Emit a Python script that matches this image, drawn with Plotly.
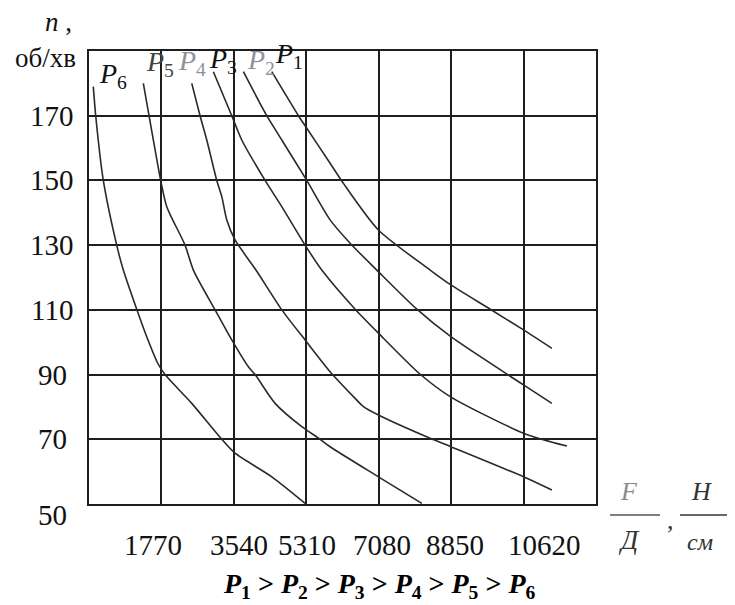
import plotly.graph_objects as go

# ---------------- data ----------------
curve_names = ["P1", "P2", "P3", "P4", "P5", "P6"]

p1_x = [4467, 5118, 5298, 5892, 6218, 7073, 8337, 8843, 9805, 10619, 11312]
p1_y = [183.6, 170, 166.6, 155.3, 149.1, 134.7, 122.3, 117.7, 110.2, 103.8, 98.1]

p2_x = [3773, 4344, 4711, 5322, 5892, 6381, 7033, 8012, 8843, 10619, 11312]
p2_y = [183.6, 170, 162.5, 150, 137.8, 130.6, 122.3, 110.2, 101.7, 86.8, 81.1]

p3_x = [3039, 3489, 3733, 4303, 4711, 5281, 5689, 6504, 7073, 8093, 8826, 10619, 11680]
p3_y = [183.6, 170, 162.5, 150, 141.9, 130, 122.3, 110.2, 102.8, 90.1, 83.2, 71.9, 67.9]

p4_x = [2511, 2714, 2878, 3122, 3245, 3367, 3570, 4080, 4711, 5281, 5892, 6462, 6707, 7073, 8337, 8843, 10619, 11312]
p4_y = [180, 170, 162.5, 150, 145, 137.8, 131.6, 122.3, 110, 100.7, 90.9, 83.2, 80.1, 77.5, 70.3, 67.7, 58.4, 54.3]

p5_x = [1328, 1467, 1572, 1752, 1900, 2347, 2550, 3081, 3489, 3895, 4059, 4548, 5200, 5650, 5892, 7073, 8134]
p5_y = [180, 170, 162.5, 150, 141.9, 130, 122.3, 110, 100.7, 92.4, 90, 81.1, 73.9, 70, 67.7, 58.4, 50.2]

p6_x = [105, 164, 350, 677, 839, 1166, 1411, 1680, 1858, 2511, 3245, 3570, 4467, 5281]
p6_y = [179, 170, 150, 130, 122.3, 110.2, 101.7, 93.5, 90, 81.1, 70, 65.7, 58.4, 50.2]

x_tick_vals = [1770, 3540, 5310, 7080, 8850, 10620]
x_tick_labels = ["1770", "3540", "5310", "7080", "8850", "10620"]
y_tick_vals = [50, 70, 90, 110, 130, 150, 170]
y_tick_labels = ["50", "70", "90", "110", "130", "150", "170"]

x_max = 12390
y_min, y_max = 50, 190

# ---------------- layout helpers ----------------
OFF = 8  # browser body margin
W, H = 735 - OFF, 605 - OFF
L, R, T, B = 89, 596, 51, 504  # plot area in page pixels


def px(xp):
    return (xp - L) / (R - L)


def py(yp):
    return (B - yp) / (B - T)


SERIF = "Liberation Serif"

fig = go.Figure()
series = [(p1_x, p1_y), (p2_x, p2_y), (p3_x, p3_y), (p4_x, p4_y), (p5_x, p5_y), (p6_x, p6_y)]
for name, (xs, ys) in zip(curve_names, series):
    fig.add_trace(go.Scatter(
        x=xs, y=ys, mode="lines", name=name,
        line=dict(color="#2a2a2a", width=1.6, shape="spline", smoothing=0.7),
        showlegend=False, hoverinfo="skip",
    ))

fig.update_xaxes(
    range=[0, x_max], tick0=0, dtick=1770, showgrid=True, gridcolor="#1e1e1e", gridwidth=2,
    showline=True, linecolor="#1e1e1e", linewidth=2, mirror=True, zeroline=False,
    showticklabels=False, ticks="", fixedrange=True,
)
fig.update_yaxes(
    range=[y_min, y_max], tick0=50, dtick=20, showgrid=True, gridcolor="#1e1e1e", gridwidth=2,
    showline=True, linecolor="#1e1e1e", linewidth=2, mirror=True, zeroline=False,
    showticklabels=False, ticks="", fixedrange=True,
)

ann = []
# y tick labels
for v, t in zip(y_tick_vals, y_tick_labels):
    ann.append(dict(x=px(52), xref="paper", y=v, yref="y", text=t, showarrow=False,
                    xanchor="center", yanchor="middle", yshift=(-11 if v == 50 else 0),
                    font=dict(family=SERIF, size=29, color="#111")))
# x tick labels
x_shifts = [-8, 5, 1, 3, 4, 21]
for v, t, s in zip(x_tick_vals, x_tick_labels, x_shifts):
    ann.append(dict(x=v, xref="x", y=py(545), yref="paper", text=t, showarrow=False,
                    xanchor="center", yanchor="middle", xshift=s,
                    font=dict(family=SERIF, size=29, color="#111")))

# curve labels
label_pos = {"P1": (289, 55), "P2": (261, 61), "P3": (223, 60), "P4": (192, 62), "P5": (160, 63), "P6": (113, 75)}
label_col = {"P1": "#111", "P2": "#8d939c", "P3": "#111", "P4": "#8d939c", "P5": "#444", "P6": "#111"}
for n in curve_names:
    xp, yp = label_pos[n]
    ann.append(dict(x=px(xp), y=py(yp), xref="paper", yref="paper", showarrow=False,
                    text="<i>P</i><sub>%s</sub>" % n[1:], xanchor="center", yanchor="middle",
                    font=dict(family=SERIF, size=28, color=label_col[n])))

# y axis title
ann.append(dict(x=px(58), y=py(22), xref="paper", yref="paper", showarrow=False,
                text="<i>n</i> ,", xanchor="center", yanchor="middle",
                font=dict(family=SERIF, size=27, color="#111")))
ann.append(dict(x=px(45), y=py(58), xref="paper", yref="paper", showarrow=False,
                text="об/хв", xanchor="center", yanchor="middle",
                font=dict(family=SERIF, size=27, color="#111")))

# x axis title (fractions)
ann.append(dict(x=px(629), y=py(491), xref="paper", yref="paper", showarrow=False,
                text="<i>F</i>", xanchor="center", yanchor="middle",
                font=dict(family=SERIF, size=26, color="#8a8a8a")))
ann.append(dict(x=px(629), y=py(540), xref="paper", yref="paper", showarrow=False,
                text="<i>Д</i>", xanchor="center", yanchor="middle",
                font=dict(family=SERIF, size=27, color="#333")))
ann.append(dict(x=px(670), y=py(520), xref="paper", yref="paper", showarrow=False,
                text=",", xanchor="center", yanchor="middle",
                font=dict(family=SERIF, size=26, color="#333")))
ann.append(dict(x=px(701), y=py(491), xref="paper", yref="paper", showarrow=False,
                text="<i>H</i>", xanchor="center", yanchor="middle",
                font=dict(family=SERIF, size=26, color="#333")))
ann.append(dict(x=px(700), y=py(542), xref="paper", yref="paper", showarrow=False,
                text="<i>см</i>", xanchor="center", yanchor="middle",
                font=dict(family=SERIF, size=24, color="#333")))

# condition line
ann.append(dict(x=px(379), y=py(585), xref="paper", yref="paper", showarrow=False,
                text="<b><i>P</i></b><b><sub>1</sub></b><b> > </b><b><i>P</i></b><b><sub>2</sub></b><b> > </b>"
                     "<b><i>P</i></b><b><sub>3</sub></b><b> > </b><b><i>P</i></b><b><sub>4</sub></b><b> > </b>"
                     "<b><i>P</i></b><b><sub>5</sub></b><b> > </b><b><i>P</i></b><b><sub>6</sub></b>",
                xanchor="center", yanchor="middle",
                font=dict(family=SERIF, size=28, color="#000")))

shapes = [
    dict(type="line", xref="paper", yref="paper", x0=px(610), x1=px(660), y0=py(515), y1=py(515),
         line=dict(color="#555", width=1.5)),
    dict(type="line", xref="paper", yref="paper", x0=px(680), x1=px(735), y0=py(515), y1=py(515),
         line=dict(color="#333", width=1.5)),
]

fig.update_layout(
    width=W, height=H,
    margin=dict(l=L - OFF, r=(W + OFF) - R, t=T - OFF, b=(H + OFF) - B, pad=0),
    paper_bgcolor="white", plot_bgcolor="white",
    annotations=ann, shapes=shapes, showlegend=False,
)

fig.write_html("out.html")
